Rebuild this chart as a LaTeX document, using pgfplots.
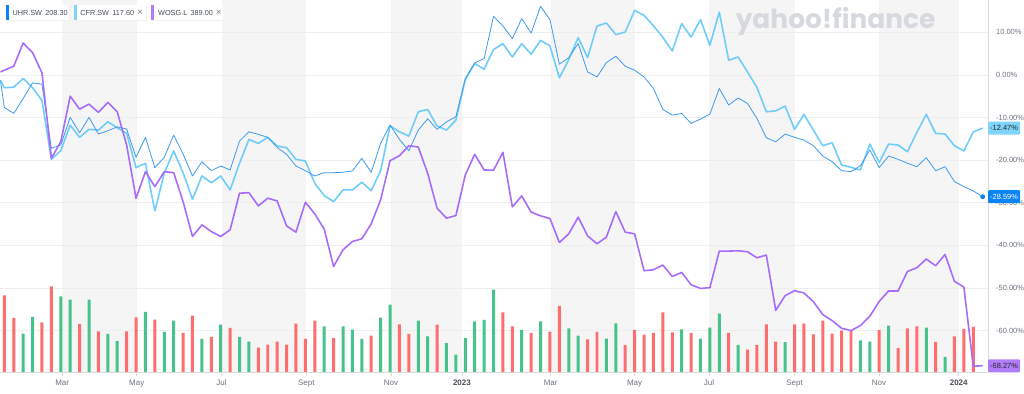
\documentclass[border=0pt]{standalone}
\usepackage{fontspec}
\setmainfont{Liberation Sans}
\newfontfamily\logofont{Poppins}
\usepackage{pgfplots}
\usepackage{pgfplotstable}
\pgfplotsset{compat=1.18}

\definecolor{uhr}{HTML}{3D9AF0}
\definecolor{uhrlab}{HTML}{0A84F2}
\definecolor{cfr}{HTML}{6FCDFB}
\definecolor{cfrlab}{HTML}{7FD5FC}
\definecolor{wosg}{HTML}{A76CFB}
\definecolor{woslab}{HTML}{B27DFB}
\definecolor{volred}{HTML}{FF6E6E}
\definecolor{volgreen}{HTML}{45C38A}
\definecolor{band}{HTML}{F5F5F5}
\definecolor{gridc}{HTML}{EEEEEE}
\definecolor{axisc}{HTML}{DADADA}
\definecolor{ticktxt}{HTML}{6B7280}
\definecolor{yeartxt}{HTML}{464E56}
\definecolor{legtxt}{HTML}{464E56}
\definecolor{logo}{HTML}{D6D9DD}

% UHR.SW (percent change, weekly)
\pgfplotstableread{
x y
-0.42 -1.24
0 -7.63
1 -9.04
2 -5.53
3 -1.87
4 -2.18
5 -17.23
6 -16.46
7 -9.97
8 -13.58
9 -9.97
10 -13.88
11 -13.11
12 -12.18
13 -12.71
14 -19.34
15 -14.66
16 -21.77
17 -19.34
18 -14.12
19 -18.57
20 -23.72
21 -20.37
22 -22.48
23 -21.38
24 -22.31
25 -15.52
26 -13.35
27 -13.95
28 -14.66
29 -17.00
30 -18.64
31 -21.38
32 -22.48
33 -23.72
34 -22.95
35 -22.95
36 -22.85
37 -22.55
38 -19.57
39 -22.85
40 -16.06
41 -11.78
42 -15.13
43 -17.79
44 -12.95
45 -10.30
46 -12.78
47 -11.00
48 -9.83
49 -0.84
50 2.81
51 3.84
52 13.74
53 11.47
54 8.52
55 13.21
56 9.83
57 16.09
58 12.97
59 2.51
60 4.07
61 7.35
62 0.70
63 -0.47
64 2.90
65 4.38
66 2.04
67 1.10
68 -0.47
69 -3.18
70 -8.10
71 -9.44
72 -9.04
73 -11.38
74 -10.37
75 -9.20
76 -3.18
77 -7.09
78 -5.39
79 -6.70
80 -10.21
81 -14.75
82 -15.69
83 -13.88
84 -14.66
85 -15.29
86 -16.62
87 -19.04
88 -20.37
89 -22.48
90 -22.71
91 -21.31
92 -17.63
93 -21.77
94 -19.04
95 -19.81
96 -20.74
97 -21.54
98 -19.43
99 -22.48
100 -21.54
101 -25.05
102 -26.22
103 -27.23
104 -28.59
}\uhrdata

% CFR.SW
\pgfplotstableread{
x y
-0.42 -1.24
0 -3.00
1 -2.88
2 -0.84
3 -3.00
4 -5.99
5 -19.81
6 -17.79
7 -11.78
8 -14.66
9 -12.78
10 -12.95
11 -11.00
12 -12.41
13 -13.72
14 -21.77
15 -20.74
16 -31.91
17 -23.09
18 -17.86
19 -22.95
20 -29.17
21 -23.72
22 -25.29
23 -23.72
24 -27.00
25 -20.74
26 -15.13
27 -16.06
28 -14.66
29 -16.69
30 -17.09
31 -19.81
32 -20.21
33 -25.43
34 -28.33
35 -29.74
36 -27.00
37 -27.00
38 -25.19
39 -27.16
40 -22.48
41 -11.94
42 -13.35
43 -14.35
44 -8.66
45 -8.10
46 -12.01
47 -12.95
48 -10.61
49 -1.08
50 2.67
51 1.33
52 5.95
53 7.35
54 4.21
55 7.35
56 4.85
57 8.12
58 6.79
59 -0.70
60 3.61
61 8.76
62 4.07
63 11.47
64 12.18
65 9.46
66 10.07
67 15.15
68 13.98
69 11.52
70 8.83
71 5.62
72 12.03
73 8.90
74 12.97
75 6.95
76 14.75
77 3.44
78 4.21
79 0.70
80 -2.95
81 -8.66
82 -8.43
83 -7.33
84 -12.78
85 -9.27
86 -12.95
87 -16.62
88 -15.92
89 -21.14
90 -21.68
91 -22.31
92 -16.23
93 -20.51
94 -16.23
95 -16.46
96 -18.03
97 -13.49
98 -9.27
99 -13.72
100 -13.88
101 -16.62
102 -17.86
103 -13.35
104 -12.47
}\cfrdata

% WOSG.L
\pgfplotstableread{
x y
-0.42 0.70
0 1.10
1 2.04
2 7.49
3 5.24
4 0.47
5 -19.57
6 -15.69
7 -4.99
8 -8.03
9 -6.86
10 -8.80
11 -6.46
12 -8.66
13 -16.46
14 -28.94
15 -22.71
16 -26.22
17 -22.71
18 -22.95
19 -29.74
20 -37.93
21 -35.19
22 -36.76
23 -37.93
24 -36.36
25 -27.77
26 -27.63
27 -30.74
28 -28.94
29 -29.57
30 -35.43
31 -36.90
32 -29.88
33 -32.62
34 -36.20
35 -44.95
36 -41.05
37 -39.10
38 -38.47
39 -34.96
40 -29.34
41 -20.14
42 -18.97
43 -16.62
44 -16.93
45 -23.09
46 -31.28
47 -33.62
48 -33.01
49 -23.48
50 -18.64
51 -22.31
52 -22.38
53 -18.17
54 -30.98
55 -28.40
56 -32.22
57 -33.08
58 -33.72
59 -39.33
60 -37.30
61 -33.39
62 -37.77
63 -39.64
64 -38.07
65 -32.08
66 -36.90
67 -37.30
68 -45.96
69 -45.73
70 -44.63
71 -47.30
72 -46.36
73 -49.24
74 -50.11
75 -49.94
76 -41.35
77 -41.35
78 -41.28
79 -41.51
80 -42.92
81 -42.29
82 -55.26
83 -51.81
84 -50.64
85 -51.18
86 -53.22
87 -56.26
88 -57.67
89 -59.47
90 -60.01
91 -58.84
92 -56.66
93 -53.15
94 -50.71
95 -50.71
96 -46.13
97 -45.26
98 -43.22
99 -44.79
100 -42.14
101 -48.47
102 -49.78
103 -68.37
104 -68.27
}\wosgdata

% Volume (relative), down weeks
\pgfplotstableread{
x y
0 77.3
1 54.7
4 50.3
5 86.3
8 48.7
10 41.3
13 41.3
14 55.3
16 53
19 39.7
20 57
22 35.7
24 44.7
27 25
28 28
29 31
30 28
31 49
32 33.7
33 52
35 34.7
39 37
42 48.3
43 38.7
46 48
53 60.3
54 46.3
56 39.7
58 41
59 66.7
62 33.3
63 40.7
66 27.3
67 42.7
68 38
69 39.7
70 60.3
71 40.3
73 39.7
77 39.7
79 23
80 27.3
81 48.3
82 31
84 48.3
85 49
86 38.3
87 52
88 39
89 42
90 42.3
93 42.7
95 24.3
96 44.3
97 46.3
99 30.7
101 36.3
102 43.7
103 45.7
}\voldown

% Volume (relative), up weeks
\pgfplotstableread{
x y
2 39
3 55.7
6 76.3
7 73
9 73
11 38.7
12 31.3
15 60.7
17 40.7
18 52
21 33.7
23 48
25 35.7
26 31
34 46.3
36 46.3
37 43
38 33.7
40 55
41 68
44 52
45 36.3
47 29.3
48 18
49 34.7
50 51.3
51 52.7
52 83
55 42.7
57 51.3
60 44.3
61 37
64 34
65 49.3
72 43.3
74 34
75 45
76 59
78 27.7
83 30.3
91 32.3
92 31
94 47
98 45
100 15.7
}\volup

\pgfplotsset{
  base/.style={width=990pt, height=373pt, scale only axis,
    at={(0pt,21pt)}, anchor=south west, xmin=-0.42, xmax=104.56},
  pct/.style={ymin=-69.84, ymax=17.49}
}

\begin{document}
\begin{tikzpicture}[x=1pt,y=1pt]
\path (0,0) rectangle (1024,394);

% background bands and grid
\begin{axis}[base, pct, axis on top,
  axis line style={draw=none}, xtick=\empty,
  ytick={-60,-50,-40,-30,-20,-10,0,10}, yticklabel pos=right,
  yticklabels={}, yticklabel style={inner sep=0pt},
  major tick length=0pt, ymajorgrids,
  grid style={draw=gridc, line width=0.7pt}]
\fill[band] (axis cs:6.15,-69.84) rectangle (axis cs:14.07,17.49);
\fill[band] (axis cs:23.09,-69.84) rectangle (axis cs:32.1,17.49);
\fill[band] (axis cs:41.1,-69.84) rectangle (axis cs:48.64,17.49);
\fill[band] (axis cs:58.08,-69.84) rectangle (axis cs:67.0,17.49);
\fill[band] (axis cs:74.9,-69.84) rectangle (axis cs:84.0,17.49);
\fill[band] (axis cs:92.97,-69.84) rectangle (axis cs:101.45,17.49);
\end{axis}

% volume bars
\begin{axis}[base, ymin=0, ymax=373, hide axis, ybar, bar width=3pt]
\addplot[fill=volred, draw=none, bar shift=0pt] table[x=x,y=y] {\voldown};
\addplot[fill=volgreen, draw=none, bar shift=0pt] table[x=x,y=y] {\volup};
\end{axis}

% lines
\begin{axis}[base, pct, clip mode=individual,
  axis x line*=bottom, axis y line*=right,
  axis line style={draw=axisc, line width=0.8pt},
  ytick={-60,-50,-40,-30,-20,-10,0,10},
  yticklabels={-60.00\%,-50.00\%,-40.00\%,-30.00\%,-20.00\%,-10.00\%,0.00\%,10.00\%},
  yticklabel style={anchor=west, inner sep=0pt, xshift=4pt,
    font=\fontsize{7.5}{9}\selectfont, text=ticktxt},
  ytick style={draw=none},
  xtick={6.15,14.07,23.09,32.1,41.1,48.64,58.08,67.0,74.9,84.0,92.97,101.45},
  xticklabels={Mar,May,Jul,Sept,Nov,\textcolor{yeartxt}{\textbf{2023}},Mar,May,Jul,Sept,Nov,\textcolor{yeartxt}{\textbf{2024}}},
  xticklabel style={font=\fontsize{8}{9.6}\selectfont, text=ticktxt,
    anchor=north, inner sep=0pt, yshift=-3pt},
  xtick style={draw=axisc, line width=0.8pt},
  tick align=outside, major tick length=4pt]
\addplot[cfr, line width=1.6pt, line join=round] table[x=x,y=y] {\cfrdata};
\addplot[uhr, line width=0.8pt, line join=round, mark=*, mark indices={106},
  mark size=2pt, mark options={fill=uhrlab, draw=uhrlab}] table[x=x,y=y] {\uhrdata};
\addplot[wosg, line width=1.6pt, line join=round] table[x=x,y=y] {\wosgdata};

\node[fill=cfrlab, text=black!85, anchor=west, inner xsep=2pt, minimum height=13pt,
  rounded corners=1pt, font=\fontsize{7.5}{9}\selectfont] at (axis cs:104.56,-12.47) {-12.47\%};
\node[fill=uhrlab, text=white, anchor=west, inner xsep=2pt, minimum height=13pt,
  rounded corners=1pt, font=\fontsize{7.5}{9}\selectfont] at (axis cs:104.56,-28.59) {-28.59\%};
\node[fill=woslab, text=black!85, anchor=west, inner xsep=2pt, minimum height=13pt,
  rounded corners=1pt, font=\fontsize{7.5}{9}\selectfont] at (axis cs:104.56,-68.27) {-68.27\%};
\end{axis}

% watermark
\node[anchor=base west, text=logo, inner sep=0pt,
  font=\logofont\bfseries\fontsize{26.5}{26.5}\selectfont] at (737,366) {yahoo!finance};

% legend chips
\begin{scope}[font=\fontsize{7.3}{8.5}\selectfont]
  \fill[black!6] (6.5,373.3) rectangle (69.5,388.3);
  \fill[white] (6,374) rectangle (69,389);
  \fill[uhrlab] (6,374) rectangle (8.5,389);
  \node[anchor=west, inner sep=0pt, text=legtxt] at (12,381.5) {UHR.SW\hspace{3.3pt}208.30};

  \fill[black!6] (74.5,373.3) rectangle (146.5,388.3);
  \fill[white] (74,374) rectangle (146,389);
  \fill[cfrlab] (74,374) rectangle (76.5,389);
  \node[anchor=west, inner sep=0pt, text=legtxt] at (80,381.5) {CFR.SW\hspace{3.3pt}117.60};
  \node[inner sep=0pt, text=black!50, font=\fontsize{10}{10}\selectfont] at (140,381.5) {×};

  \fill[black!6] (151.5,373.3) rectangle (223.5,388.3);
  \fill[white] (151,374) rectangle (223,389);
  \fill[woslab] (151,374) rectangle (153.5,389);
  \node[anchor=west, inner sep=0pt, text=legtxt] at (158,381.5) {WOSG.L\hspace{3.3pt}389.00};
  \node[inner sep=0pt, text=black!50, font=\fontsize{10}{10}\selectfont] at (219,381.5) {×};
\end{scope}
\end{tikzpicture}
\end{document}
